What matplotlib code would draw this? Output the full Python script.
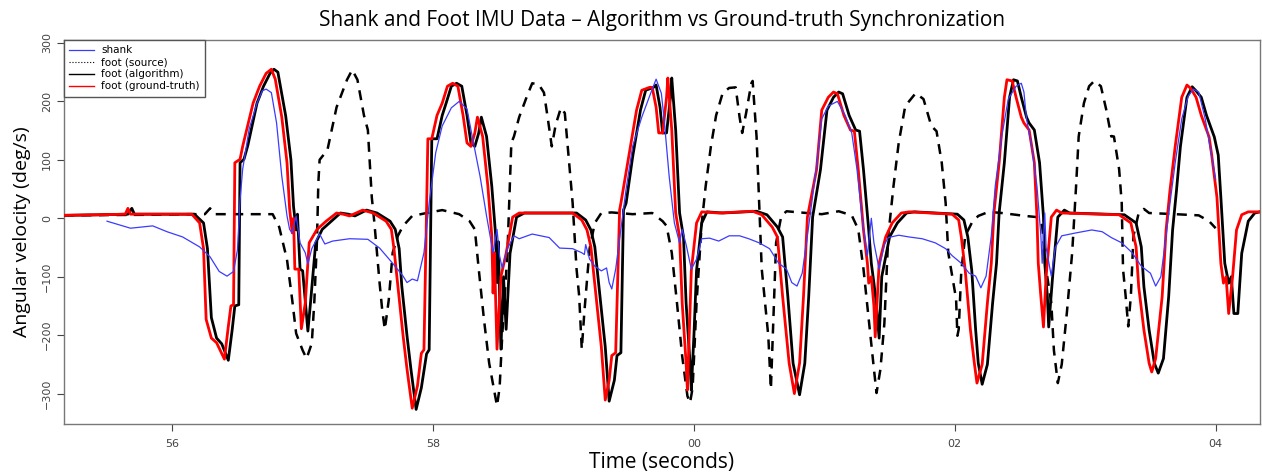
import matplotlib
matplotlib.use("Agg")
import matplotlib.pyplot as plt

# shank (blue)
shank_t = [55.50, 55.68, 55.85, 55.96, 56.08, 56.21, 56.29, 56.36, 56.42, 56.47, 56.50, 56.52, 56.54, 56.59, 56.65,
           56.69, 56.72, 56.76, 56.80, 56.84, 56.88, 56.90, 56.92, 56.95, 56.98, 57.02, 57.04, 57.07, 57.11, 57.13,
           57.17, 57.23, 57.36, 57.50, 57.59, 57.69, 57.77, 57.80, 57.84, 57.88, 57.93, 57.97, 58.02, 58.07, 58.14,
           58.20, 58.26, 58.30, 58.36, 58.41, 58.46, 58.49, 58.51, 58.53, 58.57, 58.62, 58.66, 58.76, 58.89, 58.97,
           59.07, 59.14, 59.16, 59.17, 59.20, 59.24, 59.29, 59.33, 59.35, 59.37, 59.40, 59.44, 59.48, 59.53, 59.60,
           59.66, 59.71, 59.75, 59.77, 59.81, 59.85, 59.89, 59.91, 59.94, 59.98, 60.02, 60.06, 60.12, 60.19, 60.27,
           60.35, 60.42, 60.50, 60.58, 60.65, 60.71, 60.75, 60.79, 60.83, 60.87, 60.91, 60.94, 60.98, 61.03, 61.10,
           61.16, 61.21, 61.25, 61.29, 61.33, 61.36, 61.38, 61.42, 61.46, 61.49, 61.57, 61.65, 61.75, 61.85, 61.93,
           61.98, 62.05, 62.11, 62.16, 62.20, 62.24, 62.28, 62.31, 62.36, 62.41, 62.47, 62.51, 62.53, 62.55, 62.59,
           62.63, 62.66, 62.67, 62.69, 62.70, 62.74, 62.77, 62.82, 62.93, 63.05, 63.13, 63.20, 63.28, 63.36, 63.43,
           63.50, 63.54, 63.58, 63.62, 63.65, 63.69, 63.74, 63.79, 63.83, 63.87, 63.92, 63.96, 64.00]
shank_v = [-5, -17, -13, -23, -32, -49, -66, -91, -99, -91, -54, 31, 84, 153, 197,
           218, 221, 215, 163, 72, 4, -19, -25, 4, -42, -59, -78, -52, -35, -27,
           -44, -39, -35, -36, -51, -77, -99, -110, -104, -107, -59, 26, 112, 158, 189,
           200, 187, 140, 72, 4, -59, -19, -65, -85, -52, -30, -35, -27, -33, -51,
           -52, -59, -62, -45, -70, -82, -90, -85, -110, -121, -87, -19, 50, 123, 173,
           209, 238, 214, 173, 72, -8, -42, -19, -45, -87, -70, -35, -34, -39, -30,
           -30, -35, -42, -52, -77, -87, -110, -116, -94, -30, 38, 89, 170, 192, 200,
           176, 146, 84, -1, -64, 0, -42, -87, -45, -33, -29, -32, -35, -42, -52,
           -64, -77, -94, -99, -119, -99, -30, 55, 140, 204, 226, 231, 216, 170, 123,
           55, -30, -77, 9, -50, -99, -50, -30, -25, -20, -23, -33, -42, -59, -82,
           -94, -116, -100, -30, 26, 95, 170, 209, 221, 216, 170, 118, 67]

# foot (source), dashed
source_t = [55.17, 55.83, 56.11, 56.25, 56.29, 56.32, 56.77, 56.82, 56.88, 56.92, 56.95, 57.00, 57.03, 57.07, 57.09,
            57.11, 57.12, 57.13, 57.19, 57.26, 57.34, 57.38, 57.42, 57.47, 57.50, 57.53, 57.55, 57.57, 57.59, 57.61,
            57.63, 57.66, 57.69, 57.73, 57.77, 57.84, 57.95, 58.07, 58.20, 58.28, 58.32, 58.35, 58.39, 58.43, 58.49,
            58.51, 58.53, 58.57, 58.60, 58.62, 58.66, 58.72, 58.76, 58.81, 58.85, 58.88, 58.91, 58.94, 58.98, 59.01,
            59.03, 59.07, 59.10, 59.12, 59.14, 59.16, 59.20, 59.24, 59.29, 59.37, 59.53, 59.68, 59.76, 59.79, 59.83,
            59.87, 59.91, 59.95, 59.97, 59.99, 60.02, 60.06, 60.09, 60.13, 60.17, 60.22, 60.27, 60.32, 60.35, 60.37,
            60.40, 60.44, 60.45, 60.48, 60.50, 60.52, 60.55, 60.57, 60.59, 60.60, 60.63, 60.67, 60.71, 60.81, 60.98,
            61.11, 61.21, 61.26, 61.30, 61.34, 61.38, 61.40, 61.43, 61.46, 61.49, 61.53, 61.57, 61.62, 61.70, 61.76,
            61.82, 61.86, 61.90, 61.93, 61.95, 61.98, 62.01, 62.02, 62.03, 62.05, 62.08, 62.13, 62.18, 62.26, 62.36,
            62.54, 62.63, 62.67, 62.70, 62.74, 62.76, 62.79, 62.82, 62.86, 62.90, 62.93, 62.95, 62.99, 63.03, 63.07,
            63.12, 63.16, 63.20, 63.22, 63.26, 63.28, 63.29, 63.31, 63.33, 63.35, 63.37, 63.41, 63.45, 63.49, 63.69,
            63.87, 63.95, 64.00]
source_v = [5, 6, 7, 7, 17, 7, 7, -15, -71, -140, -197, -226, -240, -214, -140,
            -37, 60, 100, 117, 190, 237, 254, 237, 176, 151, 36, -8, -60, -111, -157,
            -190, -140, -59, -30, -13, 4, 9, 14, 7, -5, -19, -87, -173, -248, -321,
            -290, -201, -59, 129, 140, 173, 209, 231, 229, 215, 170, 123, 160, 189, 180,
            129, 26, -87, -133, -224, -160, -52, -8, 9, 10, 7, 9, -5, -13, -59,
            -145, -236, -304, -316, -290, -145, -8, 55, 123, 176, 214, 223, 224, 173, 146,
            180, 231, 235, 140, 26, -87, -155, -201, -292, -230, -42, 4, 12, 10, 7,
            12, 5, -19, -87, -173, -258, -299, -258, -180, -30, 55, 129, 192, 214, 204,
            158, 149, 95, 26, -59, -99, -138, -201, -190, -90, -30, -8, 4, 11, 9,
            4, 2, -13, -87, -145, -226, -282, -250, -160, -59, 55, 140, 197, 226, 235,
            226, 187, 140, 140, 84, 26, -87, -133, -185, -133, -30, 9, 16, 9, 7,
            5, -5, -17]

# foot (algorithm), black
algo_t = [55.17, 55.45, 55.66, 55.69, 55.71, 55.91, 56.17, 56.24, 56.27, 56.30, 56.34, 56.38, 56.43, 56.46, 56.48,
          56.51, 56.52, 56.55, 56.58, 56.65, 56.70, 56.75, 56.78, 56.81, 56.87, 56.91, 56.93, 56.95, 56.96, 56.98,
          57.00, 57.04, 57.06, 57.10, 57.15, 57.22, 57.29, 57.35, 57.40, 57.49, 57.57, 57.67, 57.71, 57.74, 57.76,
          57.80, 57.83, 57.87, 57.91, 57.95, 57.97, 57.99, 58.03, 58.07, 58.10, 58.14, 58.18, 58.22, 58.26, 58.29,
          58.32, 58.35, 58.37, 58.41, 58.45, 58.48, 58.49, 58.50, 58.52, 58.54, 58.56, 58.59, 58.64, 58.70, 59.10,
          59.17, 59.21, 59.24, 59.28, 59.32, 59.35, 59.39, 59.41, 59.44, 59.46, 59.48, 59.53, 59.59, 59.63, 59.69,
          59.71, 59.74, 59.76, 59.79, 59.82, 59.83, 59.86, 59.89, 59.92, 59.94, 59.97, 59.98, 60.00, 60.02, 60.06,
          60.10, 60.22, 60.48, 60.56, 60.64, 60.68, 60.72, 60.76, 60.81, 60.85, 60.88, 60.91, 60.97, 61.02, 61.07,
          61.11, 61.14, 61.19, 61.24, 61.27, 61.30, 61.34, 61.36, 61.38, 61.40, 61.42, 61.44, 61.50, 61.56, 61.63,
          61.69, 62.02, 62.07, 62.10, 62.13, 62.16, 62.18, 62.21, 62.25, 62.29, 62.32, 62.34, 62.38, 62.42, 62.45,
          62.48, 62.51, 62.55, 62.57, 62.61, 62.65, 62.68, 62.69, 62.71, 62.72, 62.75, 62.79, 62.84, 62.88, 63.30,
          63.39, 63.43, 63.45, 63.49, 63.53, 63.56, 63.60, 63.64, 63.67, 63.70, 63.73, 63.78, 63.82, 63.85, 63.89,
          63.93, 63.99, 64.02, 64.04, 64.07, 64.10, 64.12, 64.14, 64.17, 64.20, 64.25, 64.30, 64.34]
algo_v = [5, 6, 7, 17, 7, 7, 7, -8, -52, -170, -205, -215, -243, -190, -150,
          -148, 95, 101, 125, 197, 226, 248, 255, 250, 175, 100, 20, -20, 7, -87,
          -90, -193, -145, -42, -19, -5, 9, 7, 4, 14, 9, -5, -19, -52, -116,
          -201, -258, -327, -290, -232, -225, 136, 136, 176, 197, 226, 231, 226, 176, 129,
          123, 146, 173, 140, 55, -30, -110, -40, -224, -100, -190, -60, 2, 9, 9,
          -3, -20, -49, -134, -220, -313, -277, -235, -230, 14, 26, 105, 185, 219, 224,
          228, 190, 146, 146, 207, 240, 151, 9, -32, -145, -248, -294, -200, -89, -8,
          11, 9, 12, 6, -15, -32, -134, -248, -302, -248, -134, 2, 83, 185, 207,
          216, 213, 176, 151, 149, 83, -20, -77, -111, -150, -205, -100, -32, -8, 9,
          11, 7, -3, -32, -89, -191, -248, -284, -250, -145, -77, 9, 95, 207, 237,
          235, 207, 173, 163, 151, 95, 2, -77, -134, -186, -100, 2, 14, 9, 6,
          -8, -49, -117, -191, -248, -265, -240, -134, -20, 48, 123, 207, 225, 218, 207,
          176, 139, 108, 36, -77, -111, -100, -163, -163, -60, -5, 9, 11]

# foot (ground-truth), red
truth_t = [55.17, 55.45, 55.64, 55.66, 55.68, 55.91, 56.15, 56.21, 56.24, 56.26, 56.30, 56.34, 56.40, 56.43, 56.45,
           56.47, 56.48, 56.52, 56.54, 56.62, 56.67, 56.72, 56.76, 56.79, 56.84, 56.88, 56.90, 56.92, 56.93, 56.94,
           56.97, 56.99, 57.02, 57.05, 57.11, 57.18, 57.26, 57.31, 57.36, 57.46, 57.54, 57.64, 57.68, 57.70, 57.73,
           57.77, 57.80, 57.84, 57.88, 57.91, 57.93, 57.96, 57.99, 58.03, 58.07, 58.11, 58.15, 58.19, 58.23, 58.26,
           58.29, 58.32, 58.34, 58.38, 58.42, 58.45, 58.46, 58.47, 58.49, 58.52, 58.56, 58.61, 58.66, 59.07, 59.14,
           59.18, 59.21, 59.25, 59.29, 59.32, 59.35, 59.37, 59.40, 59.43, 59.44, 59.50, 59.56, 59.60, 59.66, 59.68,
           59.71, 59.73, 59.76, 59.79, 59.80, 59.83, 59.86, 59.89, 59.91, 59.94, 59.95, 59.98, 60.02, 60.06, 60.19,
           60.45, 60.52, 60.60, 60.64, 60.68, 60.73, 60.77, 60.81, 60.84, 60.87, 60.94, 60.98, 61.03, 61.07, 61.10,
           61.15, 61.20, 61.23, 61.26, 61.30, 61.33, 61.34, 61.36, 61.38, 61.39, 61.42, 61.47, 61.52, 61.59, 61.65,
           61.98, 62.03, 62.05, 62.08, 62.12, 62.15, 62.17, 62.21, 62.25, 62.28, 62.30, 62.34, 62.38, 62.40, 62.44,
           62.47, 62.51, 62.53, 62.57, 62.61, 62.63, 62.64, 62.66, 62.68, 62.70, 62.74, 62.78, 62.82, 63.26, 63.35,
           63.39, 63.41, 63.45, 63.49, 63.51, 63.54, 63.59, 63.62, 63.65, 63.69, 63.74, 63.78, 63.81, 63.85, 63.89,
           63.95, 63.97, 64.01, 64.04, 64.06, 64.08, 64.10, 64.13, 64.16, 64.20, 64.25, 64.34]
truth_v = [5, 6, 7, 17, 7, 7, 7, -8, -52, -173, -205, -213, -241, -185, -150,
           -148, 95, 101, 123, 197, 226, 248, 255, 238, 173, 95, 16, -25, 0, -87,
           -87, -189, -145, -42, -19, -5, 9, 7, 4, 14, 9, -5, -19, -52, -116,
           -201, -258, -325, -287, -231, -225, 136, 136, 176, 197, 226, 231, 226, 176, 129,
           123, 146, 173, 140, 55, -30, -128, -59, -224, -100, -60, 2, 9, 9, -3,
           -20, -49, -134, -220, -311, -277, -235, -230, 14, 26, 105, 185, 219, 224, 224,
           190, 146, 146, 207, 240, 151, 9, -32, -145, -248, -294, -89, -8, 11, 9,
           12, 6, -15, -32, -134, -248, -300, -248, -134, 2, 83, 185, 207, 216, 213,
           176, 151, 149, 83, -20, -77, -111, -100, -150, -203, -77, -32, -8, 9, 11,
           7, -3, -32, -89, -191, -248, -282, -250, -145, -77, 9, 95, 207, 237, 235,
           207, 173, 163, 151, 95, 2, -77, -134, -186, -100, 2, 14, 9, 6, -8,
           -49, -117, -191, -248, -263, -240, -134, -20, 48, 123, 207, 228, 222, 207, 176,
           139, 108, 36, -77, -111, -100, -163, -100, -20, 6, 11, 11]

tick_pos = [56, 58, 60, 62, 64]
tick_lab = ["56", "58", "00", "02", "04"]

fig = plt.figure(figsize=(12.62, 4.73), dpi=100)
ax = fig.add_axes([0.0507, 0.1036, 0.9477, 0.8118])

ax.plot(source_t, source_v, color="black", lw=1.8, ls=(0, (4, 3)), zorder=2)
ax.plot(algo_t, algo_v, color="black", lw=2.0, zorder=3)
ax.plot(truth_t, truth_v, color="red", lw=2.0, zorder=4)
ax.plot(shank_t, shank_v, color="#3b3bff", lw=0.9, zorder=5)

ax.set_xlim(55.17, 64.34)
ax.set_ylim(-352, 305)
ax.set_xticks(tick_pos)
ax.set_xticklabels(tick_lab)
ax.set_yticks([-300, -200, -100, 0, 100, 200, 300])
for lab in ax.get_yticklabels():
    lab.set_rotation(90)
    lab.set_va("center")
ax.tick_params(labelsize=8, colors="#444444", length=5, width=0.8)
ax.tick_params(axis="x", pad=6)
for s in ax.spines.values():
    s.set_color("#777777")
    s.set_linewidth(1.0)

ax.set_title("Shank and Foot IMU Data \u2013 Algorithm vs Ground-truth Synchronization",
             fontsize=15, family="Open Sans", pad=10)
ax.set_xlabel("Time (seconds)", fontsize=15, family="Open Sans", labelpad=2)
ax.set_ylabel("Angular velocity (deg/s)", fontsize=14, family="Open Sans", labelpad=8)

handles = [
    plt.Line2D([], [], color="#3b3bff", lw=0.9),
    plt.Line2D([], [], color="black", lw=0.8, ls=":"),
    plt.Line2D([], [], color="black", lw=1.0),
    plt.Line2D([], [], color="red", lw=1.0),
]
leg = ax.legend(handles, ["shank", "foot (source)", "foot (algorithm)", "foot (ground-truth)"],
                loc="upper left", bbox_to_anchor=(0, 1), borderaxespad=0, fontsize=7.5,
                fancybox=False, framealpha=1, edgecolor="#555555", handlelength=2.4,
                handletextpad=0.7, labelspacing=0.2, borderpad=0.5)
leg.get_frame().set_linewidth(1.0)

fig.savefig("out.png", dpi=100)
